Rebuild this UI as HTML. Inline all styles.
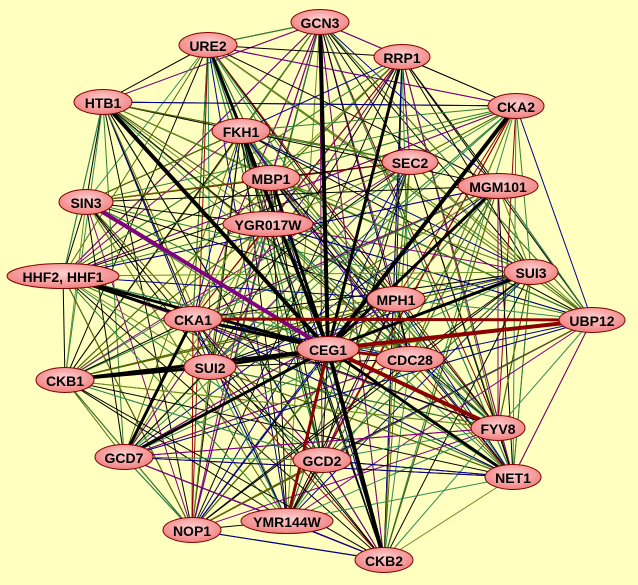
<!DOCTYPE html>
<html><head><meta charset="utf-8"><style>
html,body{margin:0;padding:0;background:#ffffc0;}
svg{display:block}
text{font-family:"Liberation Sans",sans-serif;font-weight:bold;font-size:14px;fill:#000;text-anchor:middle;dominant-baseline:central}
</style></head><body>
<svg id="s" width="638" height="585" viewBox="0 0 638 585" xmlns="http://www.w3.org/2000/svg">
<defs><radialGradient id="g" cx="50%" cy="40%" r="60%"><stop offset="0" stop-color="#ffd0d0"/><stop offset="1" stop-color="#f08080"/></radialGradient></defs>
<rect width="638" height="585" fill="#ffffc0"/>
<g id="e"></g><g id="n"></g>
</svg>
<script>
var N=[["GCN3",320,22,58],["URE2",208,45,58],["RRP1",402,57,56],["CKA2",516,106,56],["HTB1",103,102,58],["FKH1",241,131,58],["SEC2",410,162,56],["MBP1",271,178,58],["MGM101",498,186,80],["SIN3",86,202,54],["YGR017W",268,224,90],["HHF2, HHF1",63,276,112],["SUI3",531,272,54],["UBP12",592,320,66],["MPH1",396,299,58],["CKA1",193,319,58],["CEG1",328,349,62],["CDC28",410,359,68],["CKB1",65,380,58],["SUI2",210,367,52],["FYV8",498,428,54],["GCD7",124,457,58],["GCD2",322,460,58],["NET1",513,477,56],["NOP1",192,530,58],["YMR144W",287,521,92],["CKB2",384,560,58]];
var E=document.getElementById('e'),G=document.getElementById('n'),ns="http://www.w3.org/2000/svg";
function ln(a,b,c,w){var l=document.createElementNS(ns,'line');l.setAttribute('x1',a[1]);l.setAttribute('y1',a[2]);l.setAttribute('x2',b[1]);l.setAttribute('y2',b[2]);l.setAttribute('stroke',c);l.setAttribute('stroke-width',w);E.appendChild(l);}
var cols=["#000","#000","#000","#000","#556b00","#2f7f2f","#800080","#00008b","#2e8b57","#6b8e23","#8b0000","#000"];
var seed=7;function r(){seed=(seed*16807)%2147483647;return seed/2147483647;}
for(var i=0;i<N.length;i++)for(var j=i+1;j<N.length;j++){if(r()<0.85){ln(N[i],N[j],cols[Math.floor(r()*cols.length)],1);} if(r()<0.4){ln(N[i],N[j],cols[4+Math.floor(r()*6)],1);}}
var c=N[16];
["GCN3","URE2","RRP1","CKA2","HTB1","FKH1","MGM101","SIN3","HHF2, HHF1","CKA1","CKB1","SUI2","GCD7","CKB2","MBP1","NET1","SUI3"].forEach(function(k){N.forEach(function(n){if(n[0]==k)ln(c,n,"#000",k=="GCN3"||k=="CKB2"||k=="HTB1"||k=="CKA2"?4:3);});});
[["SIN3","#800080",4],["UBP12","#8b0000",4],["FYV8","#8b0000",4],["YMR144W","#8b0000",3],["CDC28","#8b0000",3]].forEach(function(p){N.forEach(function(n){if(n[0]==p[0])ln(c,n,p[1],p[2]);});});
ln(N[15],N[13],"#8b0000",3);ln(N[11],N[15],"#000",3);ln(N[18],N[19],"#000",3);ln(N[21],N[15],"#000",3);
N.forEach(function(n){var e=document.createElementNS(ns,'ellipse');e.setAttribute('cx',n[1]);e.setAttribute('cy',n[2]);e.setAttribute('rx',n[3]/2);e.setAttribute('ry',12.5);e.setAttribute('fill','url(#g)');e.setAttribute('stroke','#800000');e.setAttribute('stroke-width','1');G.appendChild(e);var t=document.createElementNS(ns,'text');t.setAttribute('x',n[1]);t.setAttribute('y',n[2]+1);t.textContent=n[0];G.appendChild(t);});
</script>
</body></html>
